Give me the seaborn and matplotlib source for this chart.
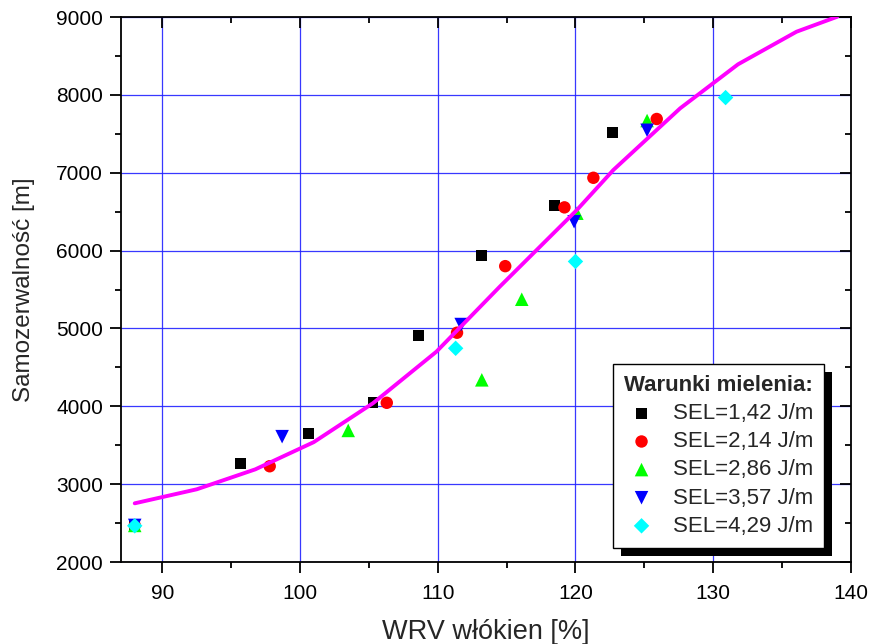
import matplotlib
matplotlib.use("Agg")
import matplotlib.pyplot as plt
from matplotlib.patches import Rectangle
from matplotlib.ticker import MultipleLocator
import seaborn as sns
import pandas as pd

# ---- data ----
sel142_x = [88, 95.7, 100.6, 105.3, 108.6, 113.2, 118.5, 122.7]
sel142_y = [2470, 3265, 3650, 4045, 4905, 5940, 6585, 7515]
sel214_x = [88, 97.8, 106.3, 111.4, 114.9, 119.2, 121.3, 125.9]
sel214_y = [2470, 3230, 4045, 4945, 5800, 6555, 6935, 7690]
sel286_x = [88, 103.5, 113.2, 116.1, 120.1, 125.2]
sel286_y = [2470, 3690, 4340, 5375, 6480, 7670]
sel357_x = [88, 98.7, 111.7, 119.9, 125.2]
sel357_y = [2470, 3610, 5050, 6370, 7545]
sel429_x = [88, 111.3, 120.0, 130.9]
sel429_y = [2465, 4745, 5860, 7965]

fit_x = [88, 92.5, 96.75, 101, 105.3, 109.9, 114.5, 120.1, 122.75, 127.6, 131.8, 136.05, 139]
fit_y = [2754, 2934, 3190, 3540, 4040, 4701, 5536, 6521, 7035, 7827, 8392, 8811, 9003]

labels = ["SEL=1,42 J/m", "SEL=2,14 J/m", "SEL=2,86 J/m", "SEL=3,57 J/m", "SEL=4,29 J/m"]
legend_title = "Warunki mielenia:"
x_label = "WRV włókien [%]"
y_label = "Samozerwalność [m]"
x_ticks = [90, 100, 110, 120, 130, 140]
y_ticks = [2000, 3000, 4000, 5000, 6000, 7000, 8000, 9000]

series_x = [sel142_x, sel214_x, sel286_x, sel357_x, sel429_x]
series_y = [sel142_y, sel214_y, sel286_y, sel357_y, sel429_y]
markers = ["s", "o", "^", "v", "D"]
colors = ["#000000", "#ff0000", "#00ff00", "#0000ff", "#00ffff"]
sizes = [62, 80, 95, 95, 62]

sns.set_style("white")
plt.rcParams["font.family"] = ["Liberation Sans", "DejaVu Sans"]
plt.rcParams["xtick.labelsize"] = 15
plt.rcParams["ytick.labelsize"] = 15

fig = plt.figure(figsize=(8.69, 6.44), dpi=100)
ax = fig.add_axes([0.1392, 0.1273, 0.8400, 0.8463])

for xs, ys, m, c, s, lab in zip(series_x, series_y, markers, colors, sizes, labels):
    df = pd.DataFrame({"x": xs, "y": ys})
    sns.scatterplot(data=df, x="x", y="y", marker=m, color=c, s=s,
                    linewidth=0, edgecolor="none", label=lab, ax=ax, zorder=2)

fit_df = pd.DataFrame({"x": fit_x, "y": fit_y})
sns.lineplot(data=fit_df, x="x", y="y", color="#ff00ff", lw=2.8, estimator=None,
             sort=False, legend=False, ax=ax, zorder=3)

ax.set_xlim(87, 140)
ax.set_ylim(2000, 9000)
ax.set_xticks(x_ticks)
ax.set_yticks(y_ticks)
ax.xaxis.set_minor_locator(MultipleLocator(5))
ax.yaxis.set_minor_locator(MultipleLocator(500))

ax.grid(True, which="major", color="#2222ff", linewidth=0.9, alpha=0.9)
ax.set_axisbelow(True)

for sp in ax.spines.values():
    sp.set_color("black")
    sp.set_linewidth(1.3)
    sp.set_visible(True)

ax.tick_params(axis="both", which="major", length=8, width=1.3, colors="black",
               labelsize=15, bottom=True, left=True)
ax.tick_params(axis="both", which="minor", length=4.5, width=1.3, colors="black",
               bottom=True, left=True)
ax.tick_params(axis="x", which="both", direction="out", pad=8)
ax.tick_params(axis="y", which="both", direction="out", pad=5)
ax.tick_params(which="both", top=True, right=True)
for lbl in ax.get_xticklabels() + ax.get_yticklabels():
    lbl.set_fontsize(15)
# top/right ticks point inward
for tick in ax.xaxis.get_major_ticks() + ax.xaxis.get_minor_ticks():
    tick.tick2line.set_marker(matplotlib.lines.TICKDOWN)
for tick in ax.yaxis.get_major_ticks() + ax.yaxis.get_minor_ticks():
    tick.tick2line.set_marker(matplotlib.lines.TICKLEFT)

ax.set_xlabel(x_label, fontsize=19.5, labelpad=11)
ax.set_ylabel(y_label, fontsize=17.5, labelpad=15)

leg = ax.legend(loc="upper left", bbox_to_anchor=(0.705, 0.4348),
                bbox_transform=fig.transFigure, title=legend_title,
                title_fontproperties={"weight": "bold", "size": 16},
                fontsize=16, frameon=True, fancybox=False, framealpha=1,
                edgecolor="black", borderpad=0.5, labelspacing=0.32,
                handlelength=1.6, handletextpad=0.6, borderaxespad=0,
                alignment="left")
leg.get_frame().set_linewidth(1.0)
leg.set_zorder(10)

fig.canvas.draw()
bb = leg.get_window_extent()
inv = fig.transFigure.inverted()
(x0, y0) = inv.transform((bb.x0 + 8, bb.y0 - 8))
(x1, y1) = inv.transform((bb.x1 + 8, bb.y1 - 8))
shadow = Rectangle((x0, y0), x1 - x0, y1 - y0, transform=fig.transFigure,
                   facecolor="black", edgecolor="none", zorder=9)
fig.patches.append(shadow)
shadow.set_figure(fig)
leg.remove()
fig.legends.append(leg)
leg.set_figure(fig)
leg.set_zorder(10)

fig.savefig("out.png", dpi=100)
